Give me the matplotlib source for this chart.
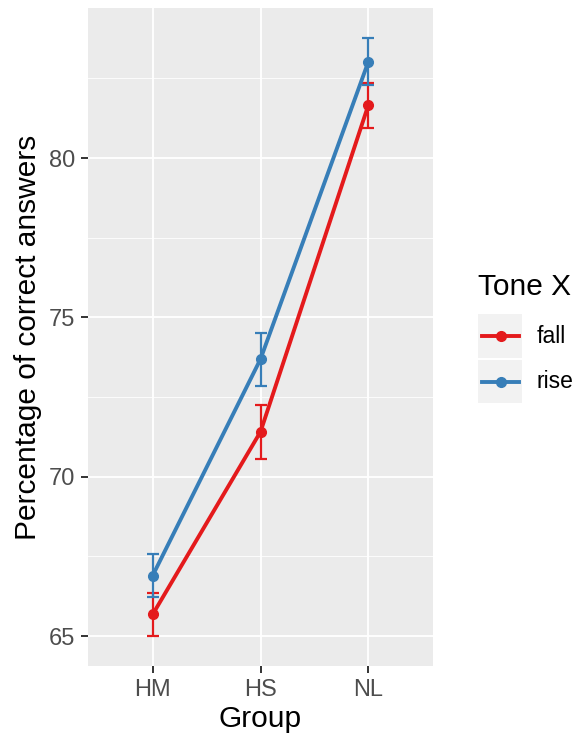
import matplotlib.pyplot as plt
from matplotlib.patches import Rectangle
from matplotlib.lines import Line2D
import numpy as np

plt.rcParams['font.family'] = ['Liberation Sans', 'DejaVu Sans']

groups = ["HM", "HS", "NL"]
fall_mean = [65.68, 71.41, 81.66]
fall_se = [0.68, 0.85, 0.71]
rise_mean = [66.90, 73.69, 83.02]
rise_se = [0.67, 0.83, 0.74]
tones = ["fall", "rise"]
colors = {"fall": "#E41A1C", "rise": "#377EB8"}

W, H = 576, 737
fig = plt.figure(figsize=(W / 100, H / 100), dpi=100)
ax = fig.add_axes([88 / W, 1 - 666 / H, (433 - 88) / W, (666 - 8) / H])
ax.set_facecolor("#EBEBEB")
for s in ax.spines.values():
    s.set_visible(False)

x = np.arange(len(groups))
series = {"fall": (fall_mean, fall_se), "rise": (rise_mean, rise_se)}
for t in tones:
    m, se = series[t]
    ax.errorbar(x, m, yerr=se, color=colors[t], lw=0, elinewidth=1.6,
                capsize=4.2, capthick=1.6, zorder=3)
    ax.plot(x, m, color=colors[t], lw=2.8, marker="o", markersize=7, zorder=4)

ax.set_xlim(-0.6, 2.6)
ax.set_ylim(64.06, 84.71)
ax.set_xticks(x)
ax.set_xticklabels(groups)
ax.set_yticks([65, 70, 75, 80])
ax.set_yticks([67.5, 72.5, 77.5, 82.5], minor=True)
ax.grid(which="major", color="white", lw=1.3)
ax.grid(which="minor", axis="y", color="white", lw=0.6)
ax.set_axisbelow(True)
ax.tick_params(which="major", length=5, width=1.4, color="#333333",
               labelcolor="#4D4D4D", labelsize=17, pad=4)
ax.tick_params(which="minor", length=0)
ax.set_xlabel("Group", fontsize=21.5, labelpad=3)
ax.set_ylabel("Percentage of correct answers", fontsize=21.5, labelpad=5)

# legend drawn by hand, ggplot style
def px(xp, yp):
    return xp / W, 1 - yp / H

fig.text(*px(478, 295), "Tone X", fontsize=21.5, ha="left", va="baseline")
for i, t in enumerate(tones):
    top = 314.3 + i * 45.7
    x0, y0 = px(478.3, top + 43.3)
    fig.add_artist(Rectangle((x0, y0), 43.3 / W, 43.3 / H, transform=fig.transFigure,
                             facecolor="#F2F2F2", edgecolor="none"))
    xa, yc = px(482, top + 22)
    xb, _ = px(519, top + 22)
    fig.add_artist(Line2D([xa, xb], [yc, yc], transform=fig.transFigure,
                          color=colors[t], lw=2.8))
    fig.add_artist(Line2D([(xa + xb) / 2], [yc], transform=fig.transFigure,
                          color=colors[t], marker="o", markersize=7))
    fig.text(*px(537, top + 22), t, fontsize=16.5, ha="left", va="center")

fig.savefig("out.png", dpi=100)
